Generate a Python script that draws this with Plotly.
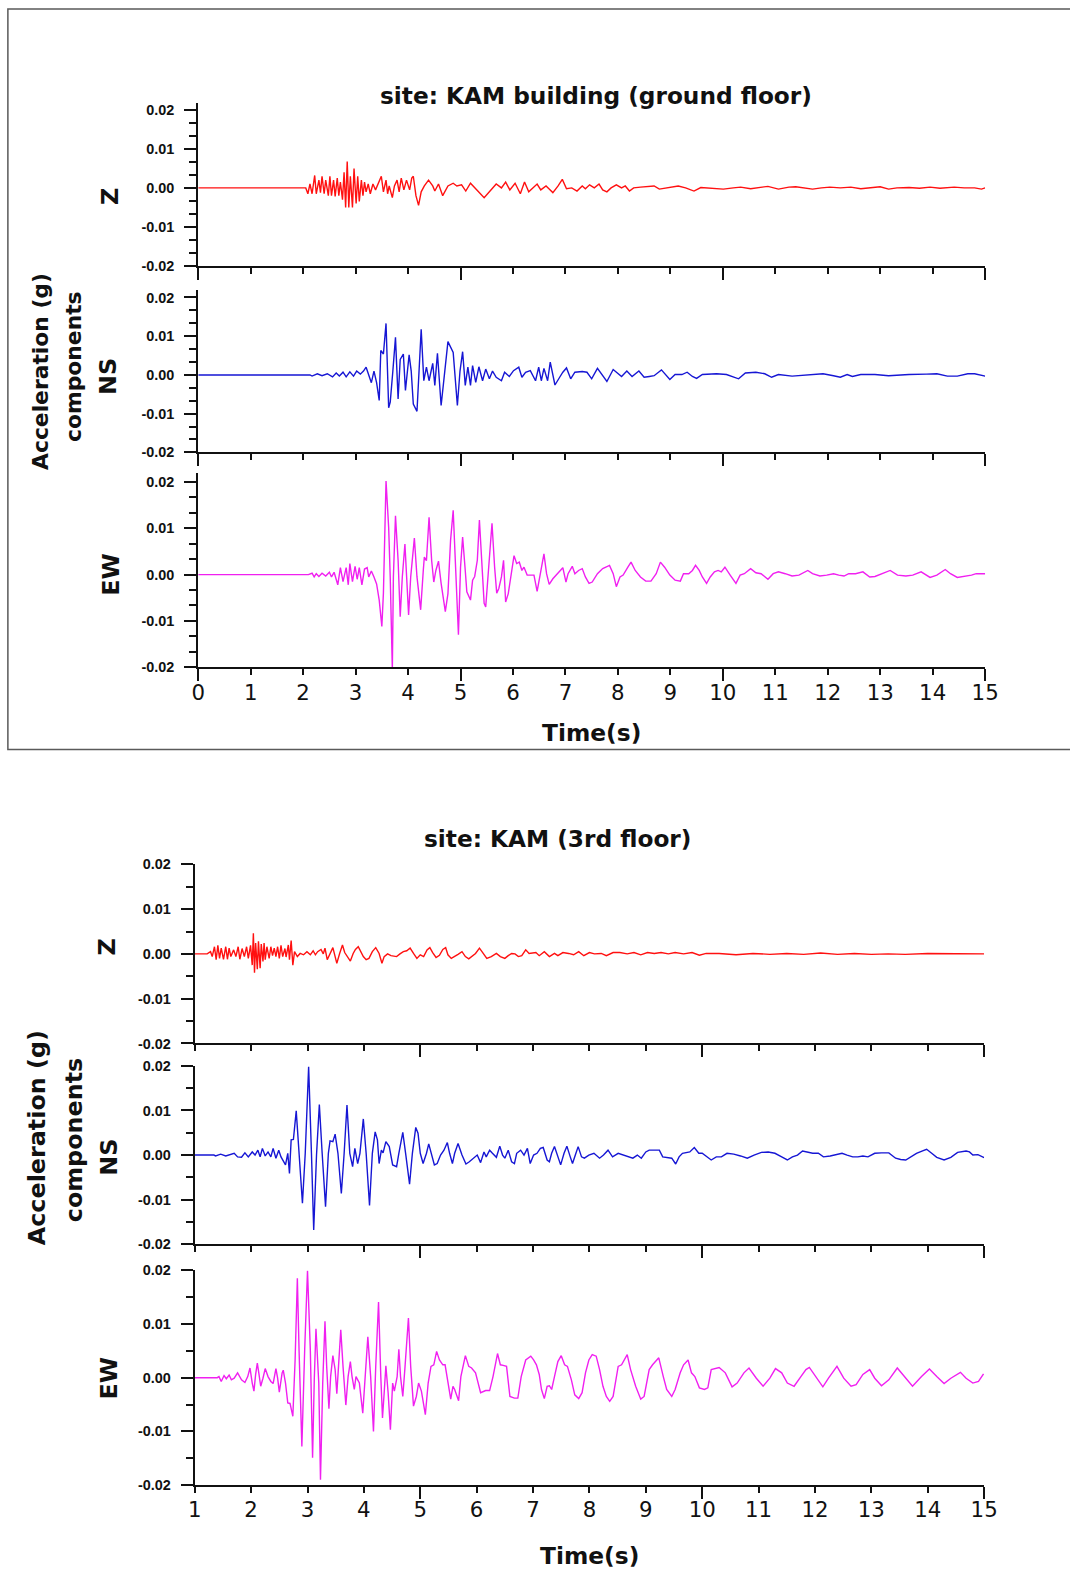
import plotly.graph_objects as go

# The page is photographed slightly reduced and offset; these constants map the
# target picture coordinates (pixels) onto figure pixels.
SCALE_X, SCALE_Y, SHIFT = 0.980, 0.9907, 7.0
FIG_W, FIG_H = 1076, 1575

# ---------------- acceleration records: (time [s], acceleration [g]) ----------------
# Ground floor
GROUND_Z = [
    (0.00, 0.0), (2.05, 0.0), (2.09, -0.0015), (2.13, 0.0010), (2.17, -0.0015), (2.22, 0.0032),
    (2.25, -0.0015), (2.30, 0.0020), (2.33, -0.0012), (2.36, 0.0030), (2.40, -0.0015), (2.43, 0.0020),
    (2.48, -0.0020), (2.51, 0.0030), (2.54, -0.0020), (2.58, 0.0020), (2.61, -0.0022), (2.65, 0.0025),
    (2.68, -0.0020), (2.71, 0.0015), (2.75, -0.0030), (2.78, 0.0040), (2.81, -0.0050), (2.84, 0.0068),
    (2.87, -0.0050), (2.90, 0.0030), (2.94, -0.0050), (2.97, 0.0050), (3.01, -0.0040), (3.04, 0.0030),
    (3.07, -0.0035), (3.11, 0.0020), (3.14, -0.0020), (3.17, 0.0015), (3.20, -0.0010), (3.24, 0.0010),
    (3.28, -0.0015), (3.33, 0.0010), (3.38, -0.0005), (3.45, 0.0020), (3.49, 0.0030), (3.53, -0.0010),
    (3.58, 0.0020), (3.61, -0.0015), (3.64, 0.0005), (3.70, -0.0025), (3.74, 0.0005), (3.79, 0.0020),
    (3.83, -0.0010), (3.87, 0.0025), (3.92, -0.0005), (3.97, 0.0020), (4.03, -0.0005), (4.07, 0.0025),
    (4.10, 0.0030), (4.15, -0.0020), (4.20, -0.0045), (4.25, -0.0010), (4.31, 0.0005), (4.39, 0.0020),
    (4.47, 0.0005), (4.51, -0.0008), (4.58, 0.0010), (4.66, -0.0020), (4.76, 0.0005), (4.86, 0.0012),
    (4.93, 0.0005), (5.02, 0.0008), (5.10, -0.0008), (5.19, 0.0012), (5.29, -0.0002), (5.45, -0.0025),
    (5.55, -0.0010), (5.68, 0.0010), (5.78, 0.0000), (5.86, 0.0015), (5.94, -0.0005), (6.04, 0.0012),
    (6.14, -0.0015), (6.22, 0.0015), (6.30, -0.0010), (6.46, 0.0010), (6.53, -0.0005), (6.63, 0.0005),
    (6.69, -0.0003), (6.76, -0.0012), (6.86, 0.0005), (6.94, 0.0022), (7.02, -0.0002), (7.12, 0.0000),
    (7.22, -0.0008), (7.32, 0.0005), (7.38, -0.0002), (7.46, 0.0008), (7.55, 0.0000), (7.64, 0.0010),
    (7.71, -0.0005), (7.79, -0.0010), (7.87, 0.0000), (7.97, 0.0008), (8.07, 0.0000), (8.14, 0.0005),
    (8.22, -0.0008), (8.30, 0.0000), (8.43, 0.0002), (8.60, 0.0003), (8.69, 0.0005), (8.79, -0.0003),
    (8.96, 0.0000), (9.15, 0.0005), (9.29, 0.0000), (9.45, -0.0008), (9.58, 0.0001), (9.75, 0.0000),
    (10.01, -0.0003), (10.20, 0.0000), (10.34, 0.0002), (10.53, -0.0002), (10.70, 0.0002), (10.86, 0.0004),
    (11.06, -0.0003), (11.26, 0.0002), (11.39, 0.0003), (11.58, 0.0000), (11.71, -0.0003), (11.88, 0.0000),
    (12.04, 0.0002), (12.24, 0.0000), (12.44, 0.0002), (12.63, -0.0002), (12.83, 0.0000), (13.00, 0.0003),
    (13.16, -0.0003), (13.32, 0.0000), (13.55, 0.0001), (13.75, -0.0001), (13.95, 0.0002), (14.14, -0.0001),
    (14.41, 0.0002), (14.60, 0.0000), (14.80, 0.0000), (14.93, -0.0003), (15.00, 0.0000),
]

GROUND_NS = [
    (0.00, 0.0), (2.13, 0.0), (2.17, -0.0003), (2.27, 0.0003), (2.36, -0.0002), (2.46, 0.0003),
    (2.56, -0.0005), (2.63, 0.0005), (2.69, -0.0003), (2.76, 0.0007), (2.82, -0.0005), (2.89, 0.0008),
    (2.96, -0.0003), (3.02, 0.0010), (3.09, 0.0002), (3.15, 0.0010), (3.20, 0.0020), (3.25, 0.0000),
    (3.30, -0.0020), (3.35, 0.0010), (3.40, -0.0020), (3.45, -0.0066), (3.48, 0.0063), (3.53, 0.0054),
    (3.58, 0.0133), (3.63, -0.0085), (3.66, -0.0070), (3.71, 0.0010), (3.76, 0.0097), (3.81, -0.0062),
    (3.85, 0.0040), (3.91, 0.0054), (3.95, -0.0040), (4.02, 0.0052), (4.06, 0.0010), (4.10, -0.0075),
    (4.17, -0.0094), (4.25, 0.0118), (4.30, -0.0015), (4.35, 0.0020), (4.40, -0.0015), (4.47, 0.0030),
    (4.51, -0.0027), (4.56, 0.0056), (4.63, -0.0079), (4.70, 0.0010), (4.76, 0.0086), (4.86, 0.0058),
    (4.94, -0.0079), (4.99, 0.0010), (5.04, 0.0060), (5.09, -0.0027), (5.14, 0.0020), (5.19, -0.0027),
    (5.23, 0.0024), (5.29, -0.0019), (5.35, 0.0021), (5.42, -0.0015), (5.48, 0.0015), (5.55, -0.0010),
    (5.61, 0.0010), (5.68, -0.0006), (5.78, -0.0015), (5.84, 0.0007), (5.93, -0.0004), (6.01, 0.0011),
    (6.11, 0.0020), (6.17, -0.0006), (6.24, 0.0007), (6.33, 0.0011), (6.43, -0.0015), (6.49, 0.0020),
    (6.54, -0.0015), (6.59, 0.0017), (6.66, -0.0015), (6.71, 0.0033), (6.76, 0.0003), (6.80, -0.0026),
    (6.89, -0.0006), (6.95, 0.0007), (7.02, 0.0018), (7.10, -0.0010), (7.18, 0.0007), (7.32, 0.0009),
    (7.41, 0.0007), (7.50, -0.0010), (7.61, 0.0017), (7.71, -0.0002), (7.79, -0.0017), (7.91, 0.0014),
    (8.00, 0.0003), (8.07, -0.0004), (8.17, 0.0010), (8.27, -0.0004), (8.40, 0.0010), (8.50, -0.0006),
    (8.60, -0.0004), (8.69, -0.0002), (8.83, 0.0013), (8.92, -0.0002), (8.99, -0.0012), (9.09, 0.0001),
    (9.22, 0.0001), (9.32, 0.0007), (9.42, -0.0004), (9.50, -0.0009), (9.61, 0.0001), (9.88, 0.0003),
    (10.07, 0.0001), (10.30, -0.0010), (10.43, 0.0005), (10.63, 0.0007), (10.80, 0.0003), (10.93, -0.0006),
    (11.06, 0.0001), (11.32, -0.0003), (11.58, 0.0000), (11.91, 0.0003), (12.11, -0.0002), (12.24, -0.0006),
    (12.37, 0.0001), (12.47, -0.0004), (12.63, 0.0001), (12.90, 0.0001), (13.16, -0.0002), (13.42, 0.0001),
    (13.55, 0.0001), (13.88, 0.0002), (14.08, 0.0003), (14.28, -0.0003), (14.47, -0.0003), (14.67, 0.0003),
    (14.80, 0.0003), (15.00, -0.0003),
]

GROUND_EW = [
    (0.00, 0.0), (2.10, 0.0), (2.17, 0.0003), (2.21, -0.0005), (2.25, 0.0002), (2.30, -0.0004),
    (2.36, 0.0003), (2.43, -0.0003), (2.50, 0.0005), (2.54, -0.0005), (2.59, 0.0005), (2.66, -0.0022),
    (2.71, 0.0015), (2.76, -0.0015), (2.82, 0.0015), (2.86, -0.0022), (2.89, 0.0024), (2.94, -0.0015),
    (2.99, 0.0018), (3.03, -0.0010), (3.07, 0.0015), (3.12, -0.0022), (3.17, 0.0012), (3.22, 0.0015),
    (3.25, -0.0005), (3.30, 0.0008), (3.35, -0.0005), (3.40, -0.0020), (3.45, -0.0055), (3.50, -0.0112),
    (3.53, -0.0040), (3.58, 0.0202), (3.63, 0.0102), (3.66, -0.0005), (3.70, -0.0205), (3.72, -0.0005),
    (3.76, 0.0127), (3.81, 0.0031), (3.85, -0.0091), (3.89, -0.0005), (3.94, 0.0066), (3.97, -0.0005),
    (4.01, -0.0087), (4.05, -0.0005), (4.12, 0.0079), (4.17, -0.0005), (4.24, -0.0076), (4.29, 0.0009),
    (4.31, 0.0038), (4.35, 0.0030), (4.40, 0.0124), (4.45, 0.0030), (4.49, -0.0016), (4.53, 0.0009),
    (4.58, 0.0029), (4.63, -0.0019), (4.71, -0.0080), (4.76, -0.0041), (4.81, 0.0074), (4.86, 0.0139),
    (4.91, 0.0009), (4.96, -0.0130), (5.00, 0.0016), (5.04, 0.0081), (5.09, 0.0009), (5.12, -0.0037),
    (5.19, -0.0055), (5.23, -0.0012), (5.27, -0.0004), (5.32, 0.0031), (5.36, 0.0118), (5.40, 0.0031),
    (5.45, -0.0062), (5.48, -0.0070), (5.54, 0.0031), (5.60, 0.0111), (5.65, 0.0016), (5.69, -0.0040),
    (5.73, -0.0030), (5.78, -0.0005), (5.82, 0.0031), (5.86, -0.0059), (5.91, -0.0041), (5.96, 0.0002),
    (6.02, 0.0041), (6.07, 0.0024), (6.12, 0.0027), (6.17, 0.0009), (6.21, 0.0016), (6.27, -0.0001),
    (6.40, -0.0001), (6.46, -0.0036), (6.53, 0.0009), (6.59, 0.0045), (6.64, 0.0002), (6.69, -0.0021),
    (6.76, -0.0009), (6.82, -0.0001), (6.89, 0.0009), (6.95, 0.0015), (7.01, -0.0016), (7.05, 0.0002),
    (7.13, 0.0018), (7.18, 0.0002), (7.25, 0.0009), (7.32, 0.0013), (7.38, -0.0005), (7.45, -0.0019),
    (7.51, -0.0016), (7.61, 0.0002), (7.71, 0.0013), (7.79, 0.0018), (7.84, 0.0020), (7.91, 0.0002),
    (7.97, -0.0026), (8.04, -0.0005), (8.10, -0.0001), (8.19, 0.0016), (8.25, 0.0027), (8.33, 0.0009),
    (8.43, -0.0005), (8.53, -0.0014), (8.63, -0.0014), (8.73, 0.0002), (8.81, 0.0027), (8.89, 0.0016),
    (8.99, -0.0001), (9.09, -0.0012), (9.19, -0.0014), (9.25, 0.0002), (9.35, 0.0002), (9.42, 0.0009),
    (9.48, 0.0020), (9.55, 0.0009), (9.61, -0.0005), (9.69, -0.0019), (9.76, -0.0005), (9.84, 0.0006),
    (9.91, 0.0009), (9.97, 0.0006), (10.04, 0.0016), (10.14, -0.0001), (10.25, -0.0019), (10.33, -0.0001),
    (10.41, 0.0002), (10.53, 0.0013), (10.63, 0.0004), (10.73, 0.0002), (10.86, -0.0010), (10.96, 0.0002),
    (11.06, 0.0006), (11.19, 0.0002), (11.32, -0.0003), (11.45, -0.0001), (11.62, 0.0009), (11.71, 0.0002),
    (11.85, -0.0003), (11.98, -0.0001), (12.11, 0.0002), (12.21, -0.0001), (12.31, -0.0003), (12.40, 0.0002),
    (12.53, 0.0002), (12.67, 0.0006), (12.80, -0.0005), (12.90, -0.0004), (13.03, 0.0002), (13.19, 0.0009),
    (13.33, -0.0001), (13.49, -0.0003), (13.62, -0.0001), (13.78, 0.0006), (13.95, -0.0006), (14.08, -0.0001),
    (14.24, 0.0011), (14.34, 0.0002), (14.47, -0.0006), (14.60, -0.0004), (14.74, -0.0001), (14.83, 0.0002),
    (15.00, 0.0002),
]

# Third floor
THIRD_Z = [
    (1.00, 0.0), (1.18, 0.0), (1.22, 0.0), (1.28, 0.0005), (1.31, -0.0006), (1.35, 0.0016),
    (1.38, -0.0013), (1.41, 0.0019), (1.44, -0.0010), (1.47, 0.0013), (1.51, -0.0012), (1.55, 0.0016),
    (1.58, -0.0012), (1.61, 0.0013), (1.64, -0.0006), (1.69, 0.0009), (1.73, -0.0006), (1.77, 0.0016),
    (1.80, -0.0012), (1.84, 0.0012), (1.88, -0.0006), (1.92, 0.0016), (1.95, -0.0010), (1.99, 0.0019),
    (2.02, -0.0025), (2.04, 0.0046), (2.06, -0.0042), (2.08, 0.0024), (2.11, -0.0034), (2.13, 0.0028),
    (2.16, -0.0032), (2.18, 0.0022), (2.21, -0.0017), (2.23, 0.0024), (2.25, -0.0013), (2.28, 0.0016),
    (2.32, -0.0010), (2.35, 0.0016), (2.38, -0.0004), (2.41, 0.0013), (2.44, -0.0006), (2.47, 0.0016),
    (2.50, -0.0010), (2.53, 0.0019), (2.56, -0.0006), (2.60, 0.0012), (2.62, -0.0007), (2.66, 0.0020),
    (2.68, -0.0013), (2.71, 0.0030), (2.74, -0.0025), (2.77, 0.0005), (2.82, -0.0006), (2.87, 0.0001),
    (2.93, -0.0002), (2.99, 0.0005), (3.05, -0.0002), (3.10, 0.0007), (3.14, -0.0002), (3.18, 0.0005),
    (3.24, 0.0010), (3.28, 0.0000), (3.31, 0.0013), (3.35, -0.0013), (3.40, 0.0001), (3.45, 0.0014),
    (3.49, -0.0006), (3.52, -0.0021), (3.57, 0.0001), (3.62, 0.0020), (3.66, 0.0003), (3.72, -0.0010),
    (3.76, -0.0016), (3.81, 0.0001), (3.85, 0.0010), (3.90, 0.0016), (3.95, 0.0005), (3.99, -0.0006),
    (4.04, -0.0013), (4.09, -0.0010), (4.15, 0.0005), (4.21, 0.0014), (4.27, 0.0001), (4.32, -0.0021),
    (4.36, -0.0006), (4.42, 0.0000), (4.48, -0.0004), (4.58, -0.0006), (4.64, 0.0000), (4.70, 0.0005),
    (4.76, 0.0007), (4.82, 0.0013), (4.88, 0.0001), (4.94, -0.0010), (5.00, -0.0002), (5.06, -0.0006),
    (5.12, 0.0009), (5.17, 0.0014), (5.22, 0.0003), (5.28, -0.0008), (5.34, -0.0003), (5.40, 0.0010),
    (5.45, 0.0014), (5.49, -0.0002), (5.55, -0.0010), (5.61, -0.0006), (5.67, -0.0001), (5.74, 0.0005),
    (5.80, -0.0006), (5.86, -0.0011), (5.92, -0.0006), (5.98, 0.0001), (6.05, 0.0013), (6.11, 0.0001),
    (6.18, -0.0010), (6.26, -0.0006), (6.35, 0.0001), (6.42, -0.0006), (6.50, -0.0010), (6.56, -0.0004),
    (6.62, 0.0001), (6.68, 0.0000), (6.74, -0.0006), (6.80, -0.0004), (6.87, 0.0009), (6.93, 0.0001),
    (7.05, 0.0003), (7.11, -0.0004), (7.20, 0.0005), (7.29, -0.0006), (7.38, 0.0001), (7.44, -0.0004),
    (7.53, 0.0003), (7.63, 0.0001), (7.72, -0.0002), (7.81, 0.0005), (7.90, -0.0004), (8.00, 0.0003),
    (8.09, 0.0000), (8.21, 0.0001), (8.30, -0.0004), (8.42, 0.0003), (8.54, 0.0003), (8.67, 0.0000),
    (8.79, 0.0003), (8.91, -0.0002), (9.03, 0.0003), (9.15, 0.0001), (9.27, 0.0003), (9.40, 0.0000),
    (9.52, 0.0003), (9.67, 0.0000), (9.82, 0.0003), (9.95, -0.0003), (10.07, 0.0001), (10.30, 0.0001),
    (10.60, -0.0002), (10.90, 0.0001), (11.20, -0.0001), (11.50, 0.0001), (11.80, -0.0001), (12.10, 0.0002),
    (12.40, -0.0001), (12.70, 0.0001), (13.00, -0.0001), (13.30, 0.0000), (13.60, -0.0001), (14.00, 0.0001),
    (14.40, 0.0000), (14.80, -0.0001), (15.00, 0.0000),
]

THIRD_NS = [
    (1.00, 0.0), (1.34, 0.0), (1.37, -0.0002), (1.46, 0.0002), (1.55, -0.0002), (1.61, 0.0001),
    (1.70, 0.0004), (1.76, -0.0004), (1.83, -0.0005), (1.89, 0.0005), (1.95, -0.0004), (2.02, 0.0007),
    (2.07, 0.0000), (2.12, 0.0011), (2.16, -0.0004), (2.20, 0.0015), (2.25, -0.0002), (2.30, 0.0007),
    (2.35, -0.0004), (2.39, 0.0015), (2.44, -0.0007), (2.49, 0.0011), (2.53, -0.0004), (2.57, -0.0013),
    (2.61, -0.0022), (2.65, 0.0004), (2.68, -0.0041), (2.71, 0.0034), (2.75, 0.0035), (2.80, 0.0099),
    (2.85, 0.0004), (2.91, -0.0108), (2.96, 0.0004), (3.02, 0.0198), (3.07, 0.0004), (3.11, -0.0168),
    (3.16, 0.0000), (3.21, 0.0113), (3.26, 0.0004), (3.32, -0.0116), (3.37, 0.0004), (3.40, 0.0032),
    (3.45, 0.0030), (3.49, 0.0047), (3.54, 0.0004), (3.60, -0.0086), (3.65, 0.0004), (3.70, 0.0112),
    (3.75, 0.0004), (3.80, -0.0026), (3.84, 0.0015), (3.89, -0.0019), (3.93, 0.0004), (3.99, 0.0081),
    (4.04, 0.0004), (4.10, -0.0113), (4.15, 0.0004), (4.20, 0.0052), (4.24, 0.0034), (4.27, -0.0019),
    (4.31, 0.0011), (4.34, 0.0005), (4.39, 0.0030), (4.45, 0.0019), (4.51, -0.0022), (4.58, -0.0026),
    (4.62, 0.0004), (4.69, 0.0051), (4.74, 0.0004), (4.81, -0.0065), (4.86, 0.0004), (4.92, 0.0062),
    (4.96, 0.0049), (5.00, 0.0004), (5.05, -0.0019), (5.11, 0.0004), (5.15, 0.0025), (5.20, 0.0004),
    (5.25, -0.0022), (5.30, -0.0019), (5.36, 0.0000), (5.42, 0.0011), (5.48, 0.0028), (5.52, 0.0004),
    (5.57, -0.0019), (5.61, 0.0004), (5.67, 0.0026), (5.74, 0.0000), (5.81, -0.0020), (5.87, -0.0015),
    (5.95, -0.0007), (6.01, 0.0000), (6.07, -0.0017), (6.13, 0.0007), (6.17, -0.0004), (6.23, 0.0011),
    (6.28, 0.0004), (6.35, -0.0005), (6.41, 0.0020), (6.46, 0.0000), (6.50, -0.0007), (6.56, 0.0011),
    (6.62, -0.0015), (6.67, -0.0019), (6.71, 0.0004), (6.78, 0.0011), (6.84, 0.0000), (6.90, 0.0015),
    (6.95, -0.0019), (7.01, 0.0000), (7.07, 0.0004), (7.13, 0.0015), (7.18, 0.0017), (7.25, -0.0011),
    (7.29, -0.0015), (7.33, 0.0004), (7.38, 0.0019), (7.43, 0.0000), (7.49, -0.0022), (7.55, 0.0004),
    (7.60, 0.0020), (7.66, -0.0004), (7.70, -0.0019), (7.75, 0.0000), (7.80, 0.0019), (7.86, -0.0004),
    (7.91, -0.0007), (7.99, 0.0000), (8.08, 0.0004), (8.18, -0.0007), (8.25, 0.0000), (8.33, 0.0011),
    (8.41, -0.0004), (8.51, 0.0004), (8.60, 0.0000), (8.70, -0.0005), (8.77, -0.0007), (8.85, 0.0000),
    (8.92, -0.0007), (9.00, 0.0007), (9.06, 0.0011), (9.15, 0.0011), (9.24, 0.0011), (9.30, -0.0004),
    (9.39, -0.0005), (9.46, -0.0007), (9.53, -0.0020), (9.59, -0.0004), (9.65, 0.0004), (9.70, 0.0005),
    (9.78, 0.0007), (9.86, 0.0017), (9.94, 0.0004), (10.00, 0.0004), (10.07, -0.0002), (10.16, -0.0011),
    (10.25, -0.0004), (10.34, -0.0004), (10.44, 0.0004), (10.56, 0.0002), (10.68, -0.0002), (10.80, -0.0007),
    (10.92, 0.0000), (11.05, 0.0006), (11.17, 0.0007), (11.29, 0.0004), (11.41, -0.0004), (11.51, -0.0011),
    (11.60, -0.0004), (11.69, 0.0000), (11.78, 0.0009), (11.87, 0.0007), (11.96, 0.0004), (12.06, 0.0004),
    (12.15, -0.0004), (12.27, -0.0002), (12.39, 0.0002), (12.48, 0.0004), (12.57, 0.0000), (12.67, -0.0004),
    (12.76, -0.0004), (12.85, -0.0002), (12.94, -0.0004), (13.06, 0.0004), (13.18, 0.0005), (13.31, 0.0005),
    (13.43, -0.0007), (13.52, -0.0010), (13.61, -0.0011), (13.70, -0.0004), (13.80, 0.0004), (13.92, 0.0010),
    (13.98, 0.0013), (14.07, 0.0004), (14.16, -0.0005), (14.29, -0.0011), (14.41, -0.0005), (14.53, 0.0006),
    (14.68, 0.0009), (14.74, 0.0007), (14.80, 0.0000), (14.89, 0.0001), (15.00, -0.0006),
]

THIRD_EW = [
    (1.00, 0.0), (1.40, 0.0), (1.43, 0.0002), (1.47, -0.0007), (1.52, 0.0004), (1.56, -0.0002),
    (1.61, 0.0005), (1.65, -0.0004), (1.70, -0.0001), (1.76, 0.0009), (1.83, -0.0004), (1.89, -0.0009),
    (1.94, 0.0002), (1.98, 0.0018), (2.02, -0.0010), (2.05, -0.0025), (2.08, 0.0006), (2.11, 0.0027),
    (2.14, 0.0006), (2.17, -0.0016), (2.21, -0.0001), (2.25, 0.0017), (2.30, 0.0002), (2.35, -0.0007),
    (2.39, -0.0011), (2.44, 0.0017), (2.47, -0.0001), (2.50, -0.0027), (2.55, 0.0009), (2.57, 0.0014),
    (2.61, -0.0010), (2.65, -0.0047), (2.69, -0.0048), (2.74, -0.0072), (2.78, 0.0033), (2.82, 0.0185),
    (2.85, 0.0052), (2.90, -0.0128), (2.95, 0.0052), (3.00, 0.0199), (3.05, 0.0052), (3.09, -0.0149),
    (3.12, -0.0004), (3.15, 0.0091), (3.20, -0.0010), (3.23, -0.0190), (3.27, -0.0010), (3.31, 0.0105),
    (3.34, 0.0021), (3.38, -0.0058), (3.41, 0.0002), (3.45, 0.0041), (3.49, 0.0015), (3.52, -0.0030),
    (3.55, 0.0021), (3.59, 0.0089), (3.63, 0.0021), (3.68, -0.0051), (3.72, 0.0002), (3.76, 0.0030),
    (3.79, 0.0002), (3.83, -0.0022), (3.86, 0.0002), (3.92, -0.0010), (3.98, -0.0066), (4.03, 0.0021),
    (4.07, 0.0076), (4.12, 0.0002), (4.17, -0.0100), (4.21, 0.0021), (4.26, 0.0141), (4.30, 0.0002),
    (4.33, -0.0075), (4.36, -0.0028), (4.39, 0.0022), (4.43, -0.0028), (4.47, -0.0097), (4.51, -0.0010),
    (4.54, -0.0025), (4.59, 0.0002), (4.62, 0.0053), (4.65, 0.0002), (4.69, -0.0035), (4.73, 0.0021),
    (4.79, 0.0111), (4.83, 0.0021), (4.88, -0.0053), (4.93, -0.0035), (4.97, -0.0010), (5.02, -0.0025),
    (5.09, -0.0069), (5.14, -0.0010), (5.19, 0.0021), (5.24, 0.0024), (5.29, 0.0049), (5.34, 0.0033),
    (5.40, 0.0024), (5.44, 0.0024), (5.49, -0.0010), (5.54, -0.0040), (5.58, -0.0016), (5.61, -0.0022),
    (5.68, -0.0043), (5.72, 0.0002), (5.80, 0.0041), (5.86, 0.0021), (5.91, 0.0018), (5.98, 0.0009),
    (6.07, -0.0028), (6.16, -0.0024), (6.23, -0.0024), (6.29, 0.0002), (6.37, 0.0045), (6.42, 0.0024),
    (6.47, 0.0023), (6.53, 0.0021), (6.59, -0.0035), (6.67, -0.0038), (6.73, -0.0038), (6.79, 0.0002),
    (6.87, 0.0033), (6.96, 0.0040), (7.01, 0.0033), (7.06, 0.0024), (7.11, 0.0006), (7.15, -0.0022),
    (7.20, -0.0039), (7.25, -0.0016), (7.29, -0.0015), (7.33, -0.0022), (7.38, 0.0002), (7.44, 0.0030),
    (7.50, 0.0041), (7.56, 0.0024), (7.61, 0.0021), (7.68, -0.0004), (7.74, -0.0032), (7.81, -0.0039),
    (7.87, -0.0028), (7.93, 0.0009), (7.99, 0.0033), (8.05, 0.0043), (8.12, 0.0040), (8.18, 0.0015),
    (8.24, -0.0016), (8.30, -0.0035), (8.36, -0.0044), (8.42, -0.0035), (8.51, 0.0021), (8.57, 0.0024),
    (8.67, 0.0043), (8.73, 0.0015), (8.82, -0.0016), (8.91, -0.0040), (8.97, -0.0035), (9.06, 0.0015),
    (9.12, 0.0024), (9.23, 0.0037), (9.31, 0.0002), (9.37, -0.0022), (9.46, -0.0035), (9.52, -0.0022),
    (9.61, 0.0009), (9.67, 0.0024), (9.75, 0.0033), (9.81, 0.0009), (9.87, 0.0002), (9.95, -0.0019),
    (10.04, -0.0022), (10.10, -0.0019), (10.16, 0.0015), (10.30, 0.0019), (10.41, 0.0009), (10.53, -0.0017),
    (10.62, -0.0010), (10.74, 0.0009), (10.83, 0.0018), (10.96, -0.0001), (11.08, -0.0016), (11.20, -0.0001),
    (11.30, 0.0017), (11.41, 0.0009), (11.51, -0.0010), (11.63, -0.0016), (11.75, 0.0002), (11.84, 0.0015),
    (11.90, 0.0019), (12.03, -0.0001), (12.14, -0.0017), (12.24, -0.0001), (12.39, 0.0021), (12.51, -0.0001),
    (12.64, -0.0016), (12.73, -0.0013), (12.85, 0.0006), (12.97, 0.0015), (13.06, -0.0001), (13.18, -0.0015),
    (13.31, -0.0004), (13.46, 0.0018), (13.58, 0.0002), (13.73, -0.0016), (13.89, 0.0002), (14.03, 0.0016),
    (14.16, 0.0002), (14.29, -0.0011), (14.41, -0.0001), (14.58, 0.0010), (14.68, -0.0001), (14.80, -0.0010),
    (14.90, -0.0007), (14.99, 0.0007),
]

# ---------------- labels and ticks ----------------
COMPONENTS = ["Z", "NS", "EW"]
COMPONENT_COLORS = {"Z": "#ff1010", "NS": "#1616d4", "EW": "#f020f0"}
TITLES = ["site: KAM building (ground floor)", "site: KAM (3rd floor)"]
TIME_LABEL = "Time(s)"
Y_LABEL_LINES = ["Acceleration (g)", "components"]
TIME_TICKS_GROUND = list(range(0, 16))
TIME_TICKS_THIRD = list(range(1, 16))
MAJOR_TIME_TICKS = [0, 5, 10, 15]
ACC_TICKS = [-0.02, -0.01, 0.0, 0.01, 0.02]
ACC_TICK_TEXT = ["-0.02", "-0.01", "0.00", "0.01", "0.02"]

BOLD = "DejaVu Sans"
BLACK = "#111111"
FS = 1 / 0.985  # font enlargement compensating the reduced photograph

# ---------------- page geometry (target pixels) ----------------
panels = [
    dict(
        title=TITLES[0], records=[GROUND_Z, GROUND_NS, GROUND_EW],
        x_px=(198.0, 984.5), t_range=[0, 15], t_ticks=TIME_TICKS_GROUND,
        rows_px=[(101.6, 265.0), (289.3, 451.7), (472.6, 666.7)], y_top=0.0219,
        minor_acc=[round(-0.02 + k * 0.01 / 3, 6) for k in range(13)],
        title_xy=(596, 95), time_xy=(591, 733),
        ylab_xy=[(41, 371), (74, 366)], ylab_size=21.5,
        comp_xy=[(110, 196), (108, 376), (110, 574)],
    ),
    dict(
        title=TITLES[1], records=[THIRD_Z, THIRD_NS, THIRD_EW],
        x_px=(194.5, 983.5), t_range=[1, 15], t_ticks=TIME_TICKS_THIRD,
        rows_px=[(864.0, 1043.3), (1065.7, 1244.3), (1270.3, 1485.3)], y_top=0.02,
        minor_acc=[round(-0.02 + k * 0.005, 6) for k in range(9)],
        title_xy=(557, 838), time_xy=(589, 1556),
        ylab_xy=[(37, 1138), (74, 1140)], ylab_size=23.5,
        comp_xy=[(107, 947), (108.5, 1157), (108.5, 1378)],
    ),
]


def ax_id(kind, n):
    return kind if n == 1 else f"{kind}{n}"


def px_x(x):
    return (x / SCALE_X - SHIFT) / FIG_W


def px_y(y):
    return 1 - (y / SCALE_Y - SHIFT) / FIG_H


fig = go.Figure()
layout_axes = {}
annotations = []

line_style = dict(showline=True, linecolor=BLACK, linewidth=2, showgrid=False, zeroline=False,
                  ticks="outside", tickcolor=BLACK, tickwidth=2)

n = 0
label_axis_n = 7
for p in panels:
    xd = [px_x(p["x_px"][0]), px_x(p["x_px"][1])]
    for comp, rec, (top, bot), cxy in zip(COMPONENTS, p["records"], p["rows_px"], p["comp_xy"]):
        n += 1
        t = [r[0] for r in rec]
        a = [r[1] for r in rec]
        fig.add_trace(go.Scatter(x=t, y=a, mode="lines", xaxis=ax_id("x", n), yaxis=ax_id("y", n),
                                 line=dict(color=COMPONENT_COLORS[comp], width=1.4),
                                 showlegend=False, hoverinfo="skip"))
        layout_axes[ax_id("xaxis", n)] = dict(
            domain=xd, range=p["t_range"], anchor=ax_id("y", n),
            tickmode="array", tickvals=MAJOR_TIME_TICKS, ticklen=12, showticklabels=False,
            minor=dict(tickmode="array", tickvals=p["t_ticks"], ticklen=6, tickwidth=2,
                       tickcolor=BLACK, ticks="outside"),
            **line_style)
        layout_axes[ax_id("yaxis", n)] = dict(
            domain=[px_y(bot), px_y(top)], range=[-0.02, p["y_top"]], anchor=ax_id("x", n),
            tickmode="array", tickvals=ACC_TICKS, ticktext=ACC_TICK_TEXT, ticklen=12,
            tickfont=dict(family="Liberation Sans", size=14.2 * FS, color=BLACK, weight="bold"),
            ticklabelstandoff=7,
            minor=dict(tickmode="array", tickvals=p["minor_acc"], ticklen=7, tickwidth=2,
                       tickcolor=BLACK, ticks="outside"),
            **line_style)
        annotations.append(dict(text=comp, x=px_x(cxy[0]), y=px_y(cxy[1]), xref="paper", yref="paper",
                                xanchor="center", yanchor="middle", textangle=-90, showarrow=False,
                                font=dict(family=BOLD, size=23.5 * FS, color=BLACK, weight="bold")))
    # time tick labels on the lowest (EW) row
    layout_axes[ax_id("xaxis", label_axis_n)] = dict(
        overlaying=ax_id("x", n), anchor=ax_id("y", n), range=p["t_range"], side="bottom",
        tickmode="array", tickvals=p["t_ticks"], ticktext=[str(v) for v in p["t_ticks"]],
        ticks="", showline=False, showgrid=False, zeroline=False, ticklabelstandoff=10,
        tickfont=dict(family="DejaVu Sans", size=21 * FS, color=BLACK))
    fig.add_trace(go.Scatter(x=[], y=[], xaxis=ax_id("x", label_axis_n), yaxis=ax_id("y", n),
                             showlegend=False, hoverinfo="skip"))
    label_axis_n += 1

    annotations.append(dict(text=p["title"], x=px_x(p["title_xy"][0]), y=px_y(p["title_xy"][1]),
                            xref="paper", yref="paper", xanchor="center", yanchor="middle",
                            showarrow=False,
                            font=dict(family=BOLD, size=22.9 * FS, color=BLACK, weight="bold")))
    annotations.append(dict(text=TIME_LABEL, x=px_x(p["time_xy"][0]), y=px_y(p["time_xy"][1]),
                            xref="paper", yref="paper", xanchor="center", yanchor="middle",
                            showarrow=False,
                            font=dict(family=BOLD, size=23 * FS, color=BLACK, weight="bold")))
    for line_text, xy in zip(Y_LABEL_LINES, p["ylab_xy"]):
        annotations.append(dict(text=line_text, x=px_x(xy[0]), y=px_y(xy[1]), xref="paper", yref="paper",
                                xanchor="center", yanchor="middle", textangle=-90, showarrow=False,
                                font=dict(family=BOLD, size=p["ylab_size"] * FS, color=BLACK, weight="bold")))

# frame around the ground-floor panel
frame_shape = dict(type="rect", xref="paper", yref="paper",
                   x0=0.9 / FIG_W, x1=1.02, y0=px_y(749), y1=1 - 0.9 / FIG_H,
                   line=dict(color="#5a5a5a", width=1.5), fillcolor="rgba(0,0,0,0)", layer="below")

fig.update_layout(
    width=FIG_W, height=FIG_H, autosize=False,
    margin=dict(l=0, r=0, t=0, b=0),
    paper_bgcolor="white", plot_bgcolor="white",
    showlegend=False, annotations=annotations, shapes=[frame_shape],
    **layout_axes,
)

fig.write_html("out.html")
